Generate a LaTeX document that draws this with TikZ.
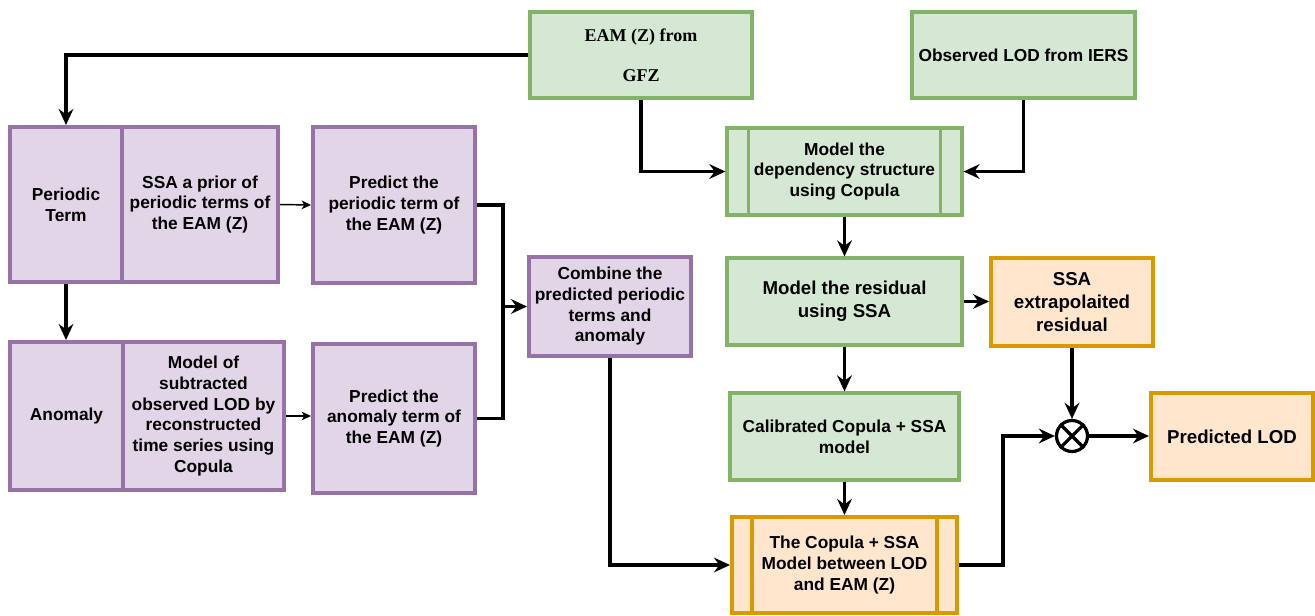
\documentclass[tikz,border=0pt]{standalone}
\usepackage{fontspec}
\setmainfont{Liberation Sans}
\newfontfamily\timesf{Liberation Serif}
\usetikzlibrary{arrows.meta}
\definecolor{pfill}{HTML}{E1D5E7}
\definecolor{pdraw}{HTML}{9673A6}
\definecolor{gfill}{HTML}{D5E8D4}
\definecolor{gdraw}{HTML}{82B366}
\definecolor{ofill}{HTML}{FFE6CC}
\definecolor{odraw}{HTML}{D79B00}
\tikzset{
  box/.style={rectangle, draw, line width=2.6pt, align=center, inner sep=2pt,
    font=\fontsize{13}{15.5}\selectfont\bfseries},
  big/.style={font=\fontsize{14}{17}\selectfont\bfseries},
  pbox/.style={box, fill=pfill, draw=pdraw, line width=3pt},
  gbox/.style={box, fill=gfill, draw=gdraw, line width=2.4pt},
  obox/.style={box, fill=ofill, draw=odraw, line width=3pt},
  sz/.style 2 args={minimum width=#1*0.75pt, minimum height=#2*0.75pt},
  arr/.style={line width=2.6pt, -{Stealth[length=12pt,width=11pt,inset=4pt]}},
  thinarr/.style={line width=1.1pt, -{Stealth[length=7pt,width=6.5pt,inset=2pt]}},
  conn/.style={line width=2.6pt},
}
\begin{document}
\begin{tikzpicture}[x=0.75pt,y=-0.75pt]
\useasboundingbox (0,0) rectangle (1315,615);
% top sources
\node[gbox, sz={222}{86}, font=\timesf\fontsize{13.5}{30}\selectfont\bfseries] (eam) at (641,55) {EAM (Z) from\\GFZ};
\node[gbox, sz={223}{86}] (obs) at (1023.5,55) {Observed LOD from IERS};
% left purple
\node[pbox, sz={112}{155}] (periodic) at (66,204.5) {Periodic\\Term};
\node[pbox, sz={156}{155}] (ssaprior) at (200,204.5) {SSA a prior of\\periodic terms of\\the EAM (Z)};
\node[pbox, sz={162}{156}] (predper) at (394,205) {Predict the\\periodic term of\\the EAM (Z)};
\node[pbox, sz={113}{148}] (anomaly) at (66.5,416) {Anomaly};
\node[pbox, sz={161}{148}] (modsub) at (203.5,416) {Model of\\subtracted\\observed LOD by\\reconstructed\\time series using\\Copula};
\node[pbox, sz={162}{149}] (predanom) at (394,418.5) {Predict the\\anomaly term of\\the EAM (Z)};
\node[pbox, sz={162}{99}] (combine) at (610,306.5) {Combine the\\predicted periodic\\terms and\\anomaly};
% green
\node[gbox, sz={235}{87}] (dep) at (844.5,171.5) {Model the\\dependency structure\\using Copula};
\draw[gdraw, line width=2.4pt] ([xshift=23*0.75pt]dep.north west) -- ([xshift=23*0.75pt]dep.south west);
\draw[gdraw, line width=2.4pt] ([xshift=-23*0.75pt]dep.north east) -- ([xshift=-23*0.75pt]dep.south east);
\node[gbox, big, sz={235}{87}] (resid) at (844.5,301.5) {Model the residual\\using SSA};
\node[gbox, sz={229}{87}] (calib) at (844.5,436.5) {Calibrated Copula + SSA\\model};
% orange
\node[obox, big, sz={162}{88}] (ssaext) at (1072,302) {SSA\\extrapolaited\\residual};
\node[obox, sz={225}{96}] (cop) at (844.5,565) {The Copula + SSA\\Model between LOD\\and EAM (Z)};
\draw[odraw, line width=3pt] ([xshift=22*0.75pt]cop.north west) -- ([xshift=22*0.75pt]cop.south west);
\draw[odraw, line width=3pt] ([xshift=-22*0.75pt]cop.north east) -- ([xshift=-22*0.75pt]cop.south east);
\node[obox, big, sz={162}{87}] (predlod) at (1232,436.5) {Predicted LOD};
% combiner
\node[circle, draw, line width=2.4pt, fill=white, minimum size=31*0.75pt, inner sep=0pt] (circ) at (1072,436) {};
\draw[line width=2.4pt] (circ.north west) -- (circ.south east);
\draw[line width=2.4pt] (circ.north east) -- (circ.south west);
% connectors
\draw[arr] (eam.west) -| (periodic.north);
\draw[arr] (eam.south) |- (dep.west);
\draw[arr] (obs.south) |- (dep.east);
\draw[arr] (periodic.south) -- (periodic.south |- anomaly.north);
\draw[thinarr] (ssaprior.east) -- (predper.west);
\draw[thinarr] (modsub.east) -- (predanom.west |- modsub.east);
\coordinate (j) at (503,306.5);
\draw[conn] (predper.east) -| (j);
\draw[conn] (predanom.east) -| (j);
\draw[arr] (j) -- (combine.west);
\draw[arr] (dep.south) -- (resid.north);
\draw[arr] (resid.east) -- (ssaext.west |- resid.east);
\draw[arr] (resid.south) -- (calib.north);
\draw[arr] (calib.south) -- (cop.north);
\draw[arr] (combine.south) |- (cop.west);
\coordinate (k) at (1003,565);
\draw[arr] (cop.east) -- (k) |- (circ.west);
\draw[arr] (ssaext.south) -- (circ.north);
\draw[arr] (circ.east) -- (predlod.west |- circ.east);
\end{tikzpicture}
\end{document}
